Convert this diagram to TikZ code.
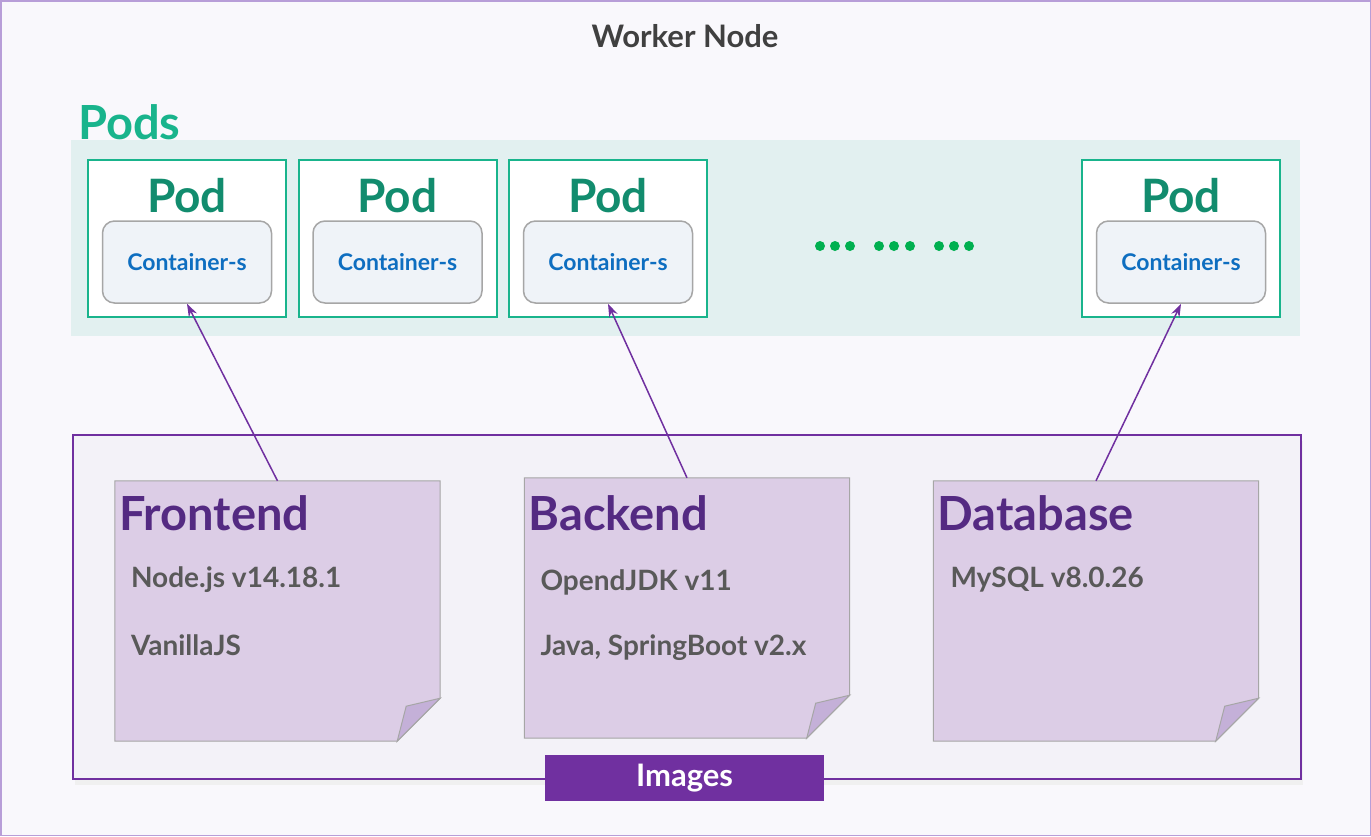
\documentclass[tikz,border=0pt]{standalone}
\usepackage{fontspec}
\setmainfont{Lato}
\usepackage{tikz}
\usetikzlibrary{arrows.meta, positioning, calc}
\usepackage{xcolor}

\definecolor{bgcol}{HTML}{F9F8FC}
\definecolor{framecol}{HTML}{B89ED8}
\definecolor{titlecol}{HTML}{404040}
\definecolor{podgreen}{HTML}{19B48C}
\definecolor{podtext}{HTML}{128C6E}
\definecolor{bandcol}{HTML}{E2F0F0}
\definecolor{contfill}{HTML}{EFF3F8}
\definecolor{contline}{HTML}{A6A6A6}
\definecolor{contblue}{HTML}{0E6EC0}
\definecolor{dotgreen}{HTML}{00B050}
\definecolor{imgpurple}{HTML}{7030A0}
\definecolor{imgfill}{HTML}{F3F2F8}
\definecolor{notefill}{HTML}{DCCDE6}
\definecolor{foldfill}{HTML}{C4B0D8}
\definecolor{notehead}{HTML}{542A82}
\definecolor{notetext}{HTML}{595959}

\newcommand{\fsz}[1]{\fontsize{#1}{#1}\selectfont\bfseries}

% folded paper drawn round a note node
\newcommand{\notepaper}[1]{%
  \draw[contline, fill=notefill, line width=1pt]
    (#1.north west) -- (#1.north east) -- ($(#1.south east)+(0,-43)$)
    -- ($(#1.south east)+(-43,0)$) -- (#1.south west) -- cycle;
  \draw[contline, fill=foldfill, line width=1pt]
    ($(#1.south east)+(0,-43)$) -- ($(#1.south east)+(-34,-35)$)
    -- ($(#1.south east)+(-43,0)$) -- cycle;
}

\begin{document}
\begin{tikzpicture}[x=1pt, y=-1pt,
  podbox/.style={draw=podgreen, line width=2pt, fill=white, minimum width=198pt, minimum height=157pt},
  podlabel/.style={text=podtext, font=\fsz{46}},
  container/.style={draw=contline, line width=1.5pt, fill=contfill, rounded corners=12pt,
    minimum width=169pt, minimum height=82pt, text=contblue, font=\fsz{23}},
  note/.style={minimum width=325pt, minimum height=260pt, inner sep=0pt},
  notehead/.style={anchor=west, text=notehead, font=\fsz{47}, inner sep=0pt},
  noteline/.style={anchor=west, text=notetext, font=\fsz{28}, inner sep=0pt},
  feed/.style={imgpurple, line width=1.5pt, -{Stealth[length=13pt, width=9pt]}},
  dot/.style={circle, fill=dotgreen, inner sep=0pt, minimum size=10pt}]

% Background
\draw[framecol, line width=1.5pt, fill=bgcol] (0.75,0.75) rectangle (1370.25,835.25);
\node[text=titlecol, font=\fsz{31}] (title) at (685,36) {Worker Node};

% Pods
\node[anchor=west, text=podgreen, font=\fsz{47}, inner sep=0pt] (podsl) at (78,122) {Pods};
\fill[bandcol] (71,140) rectangle (1300,336);

\node[podbox] (pod1) at (187,238) {};
\node[podbox] (pod2) at (397.5,238) {};
\node[podbox] (pod3) at (608,238) {};
\node[podbox] (pod4) at (1181,238) {};

\node[podlabel] (podl1) at ($(pod1)+(0,-42)$) {Pod};
\node[podlabel] (podl2) at ($(pod2)+(0,-42)$) {Pod};
\node[podlabel] (podl3) at ($(pod3)+(0,-42)$) {Pod};
\node[podlabel] (podl4) at ($(pod4)+(0,-42)$) {Pod};

\node[container] (cont1) at ($(pod1)+(0,24)$) {Container-s};
\node[container] (cont2) at ($(pod2)+(0,24)$) {Container-s};
\node[container] (cont3) at ($(pod3)+(0,24)$) {Container-s};
\node[container] (cont4) at ($(pod4)+(0,24)$) {Container-s};

% Dots
\node[dot] (d1) at (820,246) {};
\node[dot] (d2) at (835,246) {};
\node[dot] (d3) at (850,246) {};
\node[dot] (d4) at (879,246) {};
\node[dot] (d5) at (894,246) {};
\node[dot] (d6) at (910,246) {};
\node[dot] (d7) at (939,246) {};
\node[dot] (d8) at (954,246) {};
\node[dot] (d9) at (969,246) {};

% Images
\fill[black!6] (75,441) rectangle (1303,785);
\node[draw=imgpurple, line width=2pt, fill=imgfill, minimum width=1228pt, minimum height=344pt] (imgs) at (687,607) {};
\node[fill=imgpurple, text=white, font=\fsz{31}, minimum width=279pt, minimum height=46pt] (imgl) at (684.5,778) {Images};

\node[note] (front) at (277.5,611) {};
\node[note] (back) at (687,608) {};
\node[note] (db) at (1096,611) {};
\notepaper{front}
\notepaper{back}
\notepaper{db}

\node[notehead] (fronth) at ($(front.north west)+(4,32)$) {Frontend};
\node[noteline] (front1) at ($(front.north west)+(16,99)$) {Node.js v14.18.1};
\node[noteline] (front2) at ($(front.north west)+(16,164)$) {VanillaJS};

\node[notehead] (backh) at ($(back.north west)+(4,35)$) {Backend};
\node[noteline] (back1) at ($(back.north west)+(16,105)$) {OpendJDK v11};
\node[noteline] (back2) at ($(back.north west)+(16,170)$) {Java, SpringBoot v2.x};

\node[notehead] (dbh) at ($(db.north west)+(4,32)$) {Database};
\node[noteline] (db1) at ($(db.north west)+(17,99)$) {MySQL v8.0.26};

% Arrows
\draw[feed] (front.north) -- (cont1.south);
\draw[feed] (back.north) -- (cont3.south);
\draw[feed] (db.north) -- (cont4.south);
\end{tikzpicture}
\end{document}
